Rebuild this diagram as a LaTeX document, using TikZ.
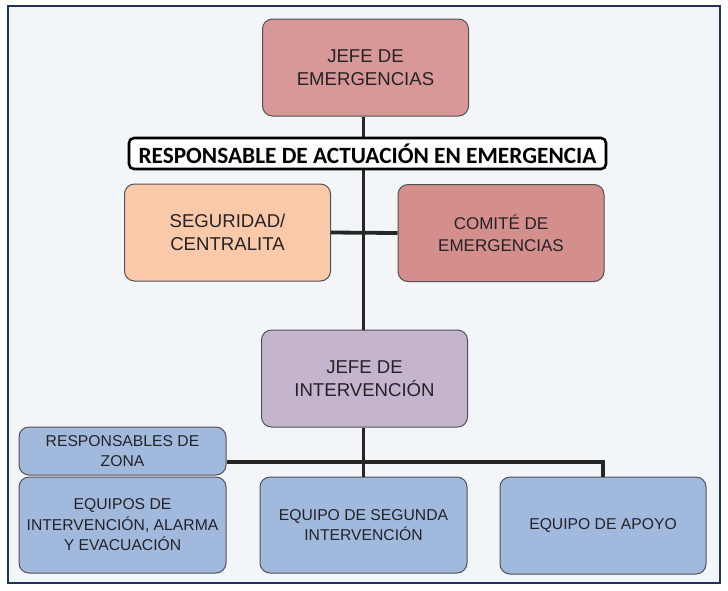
\documentclass[tikz,border=0pt]{standalone}
\usepackage{fontspec}
\setmainfont{Liberation Sans}
\newfontfamily\bannerfont{Carlito}
\definecolor{bgc}{RGB}{243,246,248}
\definecolor{framec}{RGB}{32,50,92}
\definecolor{boxline}{RGB}{80,80,85}
\definecolor{textc}{RGB}{35,35,40}
\definecolor{pinkc}{RGB}{217,152,152}
\definecolor{peachc}{RGB}{250,201,170}
\definecolor{comc}{RGB}{212,142,140}
\definecolor{lavc}{RGB}{197,180,205}
\definecolor{bluec}{RGB}{162,185,222}
\begin{document}
\begin{tikzpicture}[x=1pt,y=-1pt,
  box/.style={draw=boxline, line width=1pt, rounded corners=10pt, align=center,
    text=textc, inner sep=0pt, minimum width=206pt, minimum height=97pt},
  bigtxt/.style={font=\fontsize{18.6}{23}\selectfont},
  midtxt/.style={font=\fontsize{17}{22}\selectfont},
  smalltxt/.style={font=\fontsize{15.7}{20.5}\selectfont},
  conn/.style={draw=black!85, line width=2.6pt},
  thickconn/.style={draw=black!85, line width=3.8pt},
  banner/.style={draw=black, line width=2.6pt, rounded corners=5pt, fill=white,
    inner sep=0pt, minimum width=477pt, minimum height=31pt,
    font=\bannerfont\bfseries\fontsize{23.3}{24}\selectfont}]
\useasboundingbox (0,0) rectangle (728,590);
\fill[white] (0,0) rectangle (728,590);
\fill[bgc] (8,6) rectangle (720,583);
\draw[framec, line width=2.6pt] (8,6) rectangle (720,583);

\coordinate (sp) at (363.5,0);
\coordinate (barY) at (0,462);

% nodes
\node[box, bigtxt, fill=pinkc] (je) at (365.5,67.5) {JEFE DE\\EMERGENCIAS};
\node[box, bigtxt, fill=peachc] (seg) at (227.5,232.5) {SEGURIDAD/\\CENTRALITA};
\node[box, midtxt, fill=comc] (com) at (501,233) {COMITÉ DE\\EMERGENCIAS};
\node[box, bigtxt, fill=lavc] (ji) at (364.5,378.5) {JEFE DE\\INTERVENCIÓN};
\node[box, smalltxt, fill=bluec, minimum width=207pt, minimum height=48pt] (rz) at (122.5,451) {RESPONSABLES DE\\ZONA};
\node[box, smalltxt, fill=bluec, minimum width=207pt, minimum height=96pt] (eq1) at (122.5,525) {EQUIPOS DE\\INTERVENCIÓN, ALARMA\\Y EVACUACIÓN};
\node[box, smalltxt, fill=bluec, minimum width=207pt, minimum height=96pt] (eq2) at (363.5,525) {EQUIPO DE SEGUNDA\\INTERVENCIÓN};
\node[box, smalltxt, fill=bluec, minimum width=206pt, minimum height=97pt] (eq3) at (603,525.5) {EQUIPO DE APOYO};

% connectors
\draw[conn] (je.south -| sp) -- (ji.north -| sp);
\draw[thickconn] (seg.east) -- (com.west);
\draw[conn] (ji.south -| sp) -- (eq2.north -| sp);
\draw[thickconn] (rz.east |- barY) -- (eq3.north |- barY) -- (eq3.north);

% banner
\node[banner] (resp) at (367.5,153.5) {RESPONSABLE DE ACTUACIÓN EN EMERGENCIA};
\end{tikzpicture}
\end{document}
